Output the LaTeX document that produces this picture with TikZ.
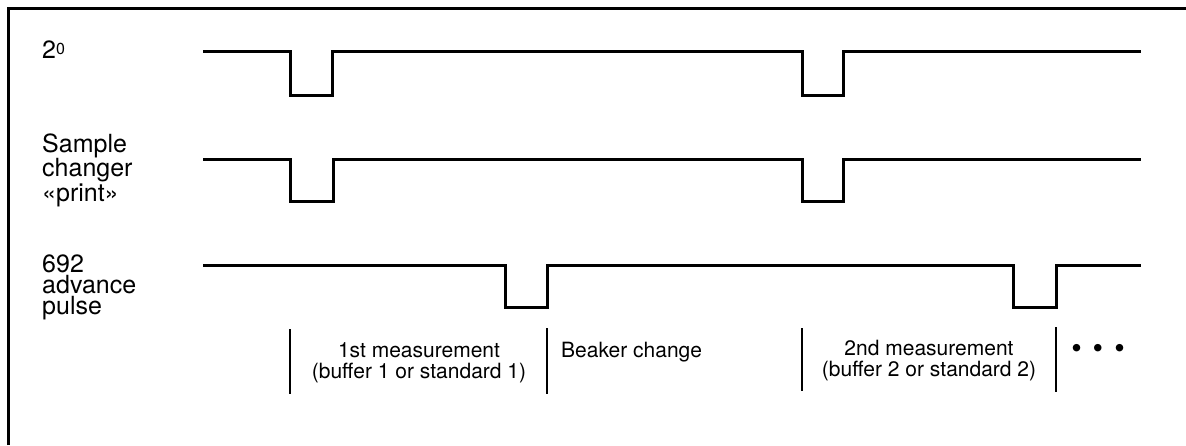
\documentclass[tikz,border=0pt]{standalone}
\usepackage{fontspec}
\setmainfont{TeX Gyre Heros}
\begin{document}
\begin{tikzpicture}[x=1pt,y=-1pt,
  frame/.style={line width=3pt},
  wave/.style={line width=3pt, line join=miter},
  divider/.style={line width=2.6pt},
  lbl/.style={anchor=base west, inner sep=0pt, align=left},
  txt/.style={inner sep=0pt, align=center, font=\fontsize{21}{21}\selectfont}]
\useasboundingbox (0,0) rectangle (1186,445);
\draw[frame] (8,445) -- (8,8) -- (1186,8);
% labels (base anchor = baseline of the last line)
\node[lbl, font=\fontsize{25}{21}\selectfont] (l1) at (42,58) {2\raisebox{4pt}{\fontsize{16}{16}\selectfont 0}};
\node[lbl, font=\fontsize{25}{17.5}\selectfont] (l2) at (42,201) {Sample\\changer\\«print»};
\node[lbl, font=\fontsize{25}{21}\selectfont] (l3) at (42,314) {692\\advance\\pulse};
% waveforms
\draw[wave] (203,51) -- (290,51) -- (290,95) -- (332,95) -- (332,51) -- (802,51) -- (802,95) -- (843,95) -- (843,51) -- (1141,51);
\draw[wave] (203,159) -- (290,159) -- (290,201) -- (333,201) -- (333,159) -- (802,159) -- (802,201) -- (843,201) -- (843,159) -- (1141,159);
\draw[wave] (203,265) -- (505,265) -- (505,307) -- (547,307) -- (547,265) -- (1013,265) -- (1013,307) -- (1056,307) -- (1056,265) -- (1141,265);
% dividers
\coordinate (d1t) at (290,329); \coordinate (d1b) at (290,394);
\coordinate (d2t) at (547,328); \coordinate (d2b) at (547,394);
\coordinate (d3t) at (802,328); \coordinate (d3b) at (802,391);
\coordinate (d4t) at (1056,327); \coordinate (d4b) at (1056,392);
\draw[divider] (d1t) -- (d1b);
\draw[divider] (d2t) -- (d2b);
\draw[divider] (d3t) -- (d3b);
\draw[divider] (d4t) -- (d4b);
% phase texts
\node[txt, anchor=base] (m1) at (419,378) {1st measurement\\(buffer 1 or standard 1)};
\node[txt, anchor=base west] (bc) at (561,357) {Beaker change};
\node[txt, anchor=base] (m2) at (929,376) {2nd measurement\\(buffer 2 or standard 2)};
\node[txt, anchor=base, font=\fontsize{30}{30}\selectfont] (dots) at (1098,358) {\textbullet\hspace{11pt}\textbullet\hspace{11pt}\textbullet};
\end{tikzpicture}
\end{document}
